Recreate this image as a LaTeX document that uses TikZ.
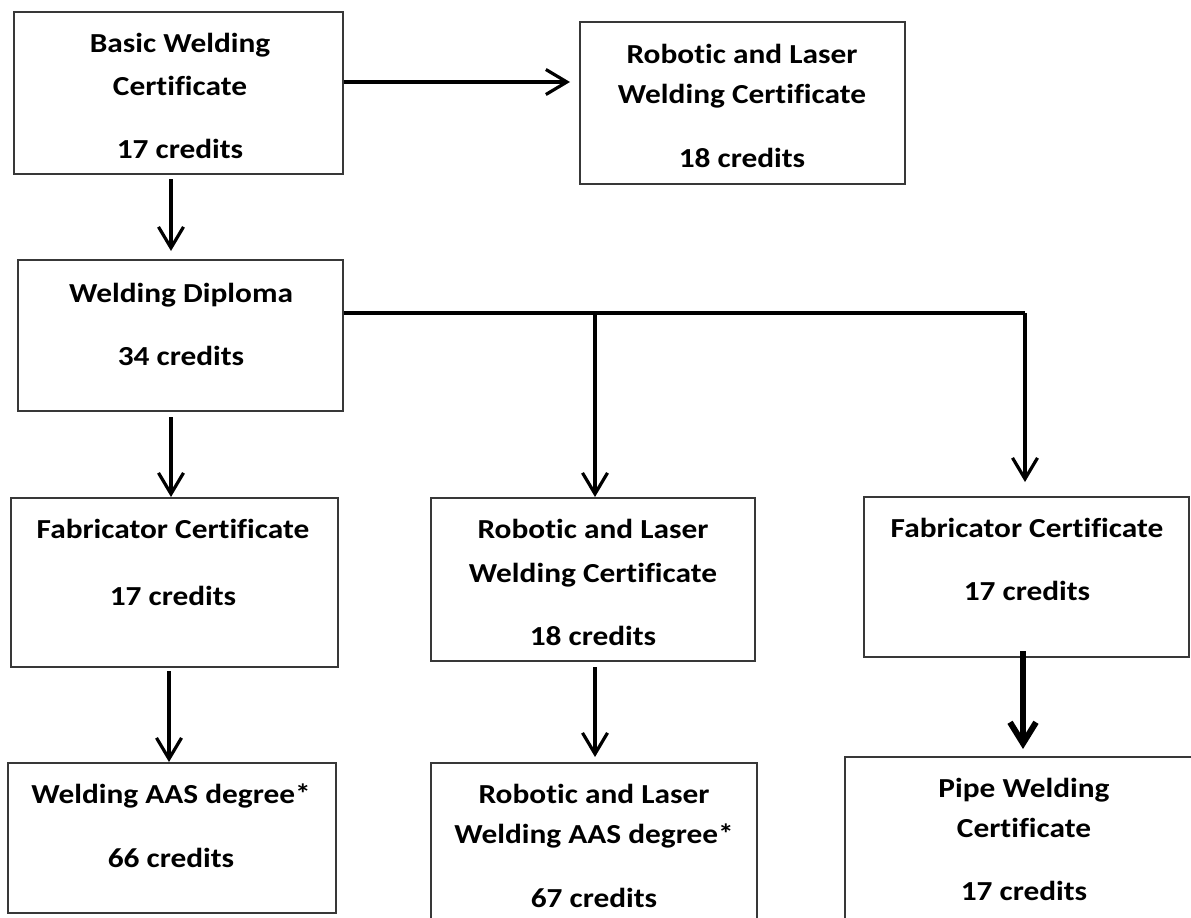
\documentclass[tikz,border=0pt]{standalone}
\usepackage{fontspec}
\setmainfont{Carlito}[FakeStretch=1.14, Ligatures={NoCommon,NoRequired,NoContextual}]
\usetikzlibrary{arrows.meta}
\tikzset{
  box/.style={draw=black!78, line width=2pt, inner sep=0pt},
  lbl/.style={anchor=base, inner sep=0pt, font=\fontsize{27.5}{33}\selectfont\bfseries},
  arr/.style={draw=black, line width=3.2pt, -{Straight Barb[length=21pt,width=25pt]}},
  thickarr/.style={draw=black, line width=6pt, -{Straight Barb[length=21pt,width=26pt]}},
  conn/.style={draw=black, line width=3.2pt}
}
\newcommand{\boxat}[5]{\node[box, minimum width=#4pt, minimum height=#5pt] (#1) at (#2,#3) {};}
\newcommand{\txt}[4]{\node[lbl] (#1) at (#2,#3) {#4};}
\begin{document}
\begin{tikzpicture}[x=1pt,y=-1pt]
\useasboundingbox (0,0) rectangle (1191,918);
\clip (0,0) rectangle (1191,918);
% boxes
\boxat{basic}{178.5}{93}{329}{162}
\boxat{robT}{742.5}{103}{325}{162}
\boxat{dip}{180.5}{335.5}{325}{151}
\boxat{fabL}{174.5}{582.5}{327}{169}
\boxat{wAAS}{172}{838}{328}{150}
\boxat{robM}{593}{579.5}{324}{163}
\boxat{rAAS}{594}{851.5}{326}{177}
\boxat{fabR}{1026.5}{577}{325}{160}
\boxat{pipe}{1021}{848.5}{352}{183}
% texts
\txt{basic1}{180}{52}{Basic Welding}
\txt{basic2}{180}{95}{Certificate}
\txt{basic3}{180}{158}{17 credits}
\txt{robT1}{742}{63}{Robotic and Laser}
\txt{robT2}{742}{103}{Welding Certificate}
\txt{robT3}{742}{167}{18 credits}
\txt{dip1}{181}{302}{Welding Diploma}
\txt{dip2}{181}{365}{34 credits}
\txt{fabL1}{173}{538}{Fabricator Certificate}
\txt{fabL2}{173}{605}{17 credits}
\txt{wAAS1}{171}{803}{Welding AAS degree*}
\txt{wAAS2}{171}{867}{66 credits}
\txt{robM1}{593}{538}{Robotic and Laser}
\txt{robM2}{593}{582}{Welding Certificate}
\txt{robM3}{593}{645}{18 credits}
\txt{rAAS1}{594}{803}{Robotic and Laser}
\txt{rAAS2}{594}{843}{Welding AAS degree*}
\txt{rAAS3}{594}{907}{67 credits}
\txt{fabR1}{1027}{537}{Fabricator Certificate}
\txt{fabR2}{1027}{600}{17 credits}
\txt{pipe1}{1024}{797}{Pipe Welding}
\txt{pipe2}{1024}{837}{Certificate}
\txt{pipe3}{1024}{900}{17 credits}
% helper coordinates
\coordinate (hy) at (0,82);
\coordinate (ax) at (171,0);
\coordinate (bx) at (169,0);
\coordinate (j1) at (595,313);
\coordinate (j2) at (1025,313);
\coordinate (cx) at (1023,0);
% connectors
\draw[arr, shorten >=9pt] (basic.east |- hy) -- (robT.west |- hy);
\draw[arr, shorten <=4pt, shorten >=8pt] (basic.south -| ax) -- (dip.north -| ax);
\draw[conn] (dip.east |- j1) -- (j2);
\draw[arr, shorten >=14pt] (j2) -- (fabR.north -| j2);
\draw[arr] (j1) -- (robM.north -| j1);
\draw[arr, shorten <=5pt] (dip.south -| ax) -- (fabL.north -| ax);
\draw[arr, shorten <=3pt] (fabL.south -| bx) -- (wAAS.north -| bx);
\draw[arr, shorten <=5pt, shorten >=5pt] (robM.south -| j1) -- (rAAS.north -| j1);
\draw[thickarr, shorten <=-7pt, shorten >=7pt] (fabR.south -| cx) -- (pipe.north -| cx);
\end{tikzpicture}
\end{document}
